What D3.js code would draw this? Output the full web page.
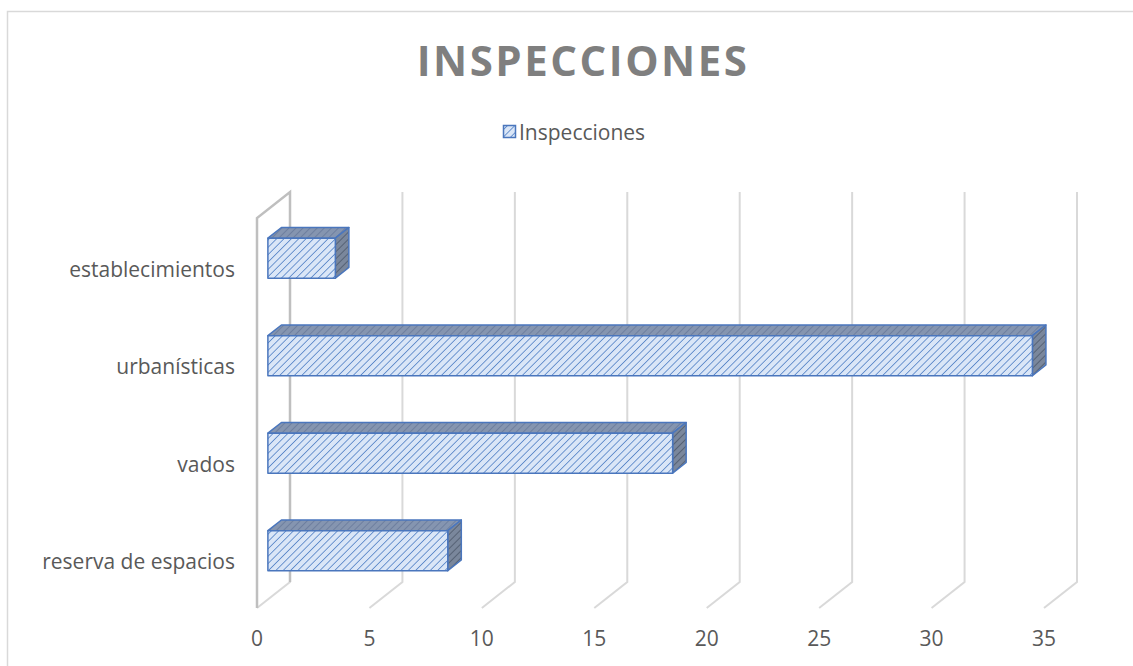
<!DOCTYPE html>
<html><head><meta charset="utf-8">
<script src="https://cdn.jsdelivr.net/npm/d3@7"></script>
<style>body{margin:0;background:#fff}svg{display:block}text{font-family:"Open Sans",sans-serif}</style>
</head><body><svg id="c" width="1133" height="666"></svg>
<script>
const title = "INSPECCIONES";
const seriesName = "Inspecciones";
const categories = ["reserva de espacios", "vados", "urbanísticas", "establecimientos"];
const values = [8, 18, 34, 3];
const ticks = [0, 5, 10, 15, 20, 25, 30, 35];

const svg = d3.select("#c");
svg.append("rect").attr("x", 7.5).attr("y", 11.5).attr("width", 1140).attr("height", 700)
  .attr("fill", "#fff").attr("stroke", "#d9d9d9").attr("stroke-width", 1.5);

// 3D geometry
const DX = 33, DY = -26; // full depth offset
const x = d3.scaleLinear().domain([0, 35]).range([257, 1044]);
const y = d3.scalePoint().domain(categories).range([608, 218]).padding(0.5);
const yTop = 218, yBot = 608;
const P = (xv, yv, d) => [xv + d * DX, yv + d * DY];

const defs = svg.append("defs");
function hatch(id, bg, fg, w, sp) {
  const p = defs.append("pattern").attr("id", id).attr("patternUnits", "userSpaceOnUse")
    .attr("width", sp).attr("height", sp).attr("patternTransform", "rotate(45)");
  p.append("rect").attr("width", sp).attr("height", sp).attr("fill", bg);
  p.append("line").attr("x1", 0).attr("y1", 0).attr("x2", 0).attr("y2", sp)
    .attr("stroke", fg).attr("stroke-width", w);
}
hatch("hFront", "#dae6f7", "#5b88c9", 1.7, 5.2);
hatch("hTop", "#8595b0", "#66789a", 1.5, 5);
hatch("hSide", "#7a879c", "#4c586b", 1.6, 5);

// gridlines (back wall + floor)
const g = svg.append("g");
ticks.forEach(t => {
  const xf = x(t);
  const pts = [P(xf, yTop, 1), P(xf, yBot, 1), [xf, yBot]];
  g.append("polyline").attr("points", pts.map(p => p.join(",")).join(" "))
    .attr("fill", "none").attr("stroke", "#d9d9d9").attr("stroke-width", 2);
});
// left wall
const lw = [[x(0), yBot], [x(0), yTop], P(x(0), yTop, 1), P(x(0), yBot, 1)];
g.append("polyline").attr("points", lw.map(p => p.join(",")).join(" "))
  .attr("fill", "none").attr("stroke", "#bfbfbf").attr("stroke-width", 2.5);

// bars
const d0 = 0.33, d1 = 0.74, bh = 40;
const bars = svg.append("g");
categories.forEach((c, i) => {
  const v = values[i];
  const x0 = x(0), x1 = x(v), yc = y(c);
  const yt = yc - bh / 2, yb = yc + bh / 2;
  const front = [P(x0, yt, d0), P(x1, yt, d0), P(x1, yb, d0), P(x0, yb, d0)];
  const top = [P(x0, yt, d0), P(x0, yt, d1), P(x1, yt, d1), P(x1, yt, d0)];
  const side = [P(x1, yt, d0), P(x1, yt, d1), P(x1, yb, d1), P(x1, yb, d0)];
  const poly = (pts, fill) => bars.append("polygon").attr("points", pts.map(p => p.join(",")).join(" "))
    .attr("fill", fill).attr("stroke", "#4a76bd").attr("stroke-width", 1.5).attr("stroke-linejoin", "round");
  poly(top, "url(#hTop)");
  poly(side, "url(#hSide)");
  poly(front, "url(#hFront)");
});

// category labels
svg.append("g").selectAll("text").data(categories).join("text")
  .attr("x", 235).attr("y", d => y(d) + 10).attr("text-anchor", "end")
  .attr("fill", "#595959").attr("font-size", 21).text(d => d);

// tick labels
svg.append("g").selectAll("text").data(ticks).join("text")
  .attr("x", d => x(d)).attr("y", 646).attr("text-anchor", "middle")
  .attr("fill", "#595959").attr("font-size", 21).text(d => d);

// title
svg.append("text").attr("x", 583).attr("y", 76).attr("text-anchor", "middle")
  .attr("font-size", 42).attr("font-weight", "bold").attr("fill", "#7f7f7f")
  .attr("letter-spacing", 2.5).text(title);

// legend
svg.append("rect").attr("x", 503.5).attr("y", 125.5).attr("width", 12).attr("height", 12)
  .attr("fill", "url(#hFront)").attr("stroke", "#4a76bd").attr("stroke-width", 1.5);
svg.append("text").attr("x", 519).attr("y", 140).attr("fill", "#595959").attr("font-size", 21).text(seriesName);
</script></body></html>
